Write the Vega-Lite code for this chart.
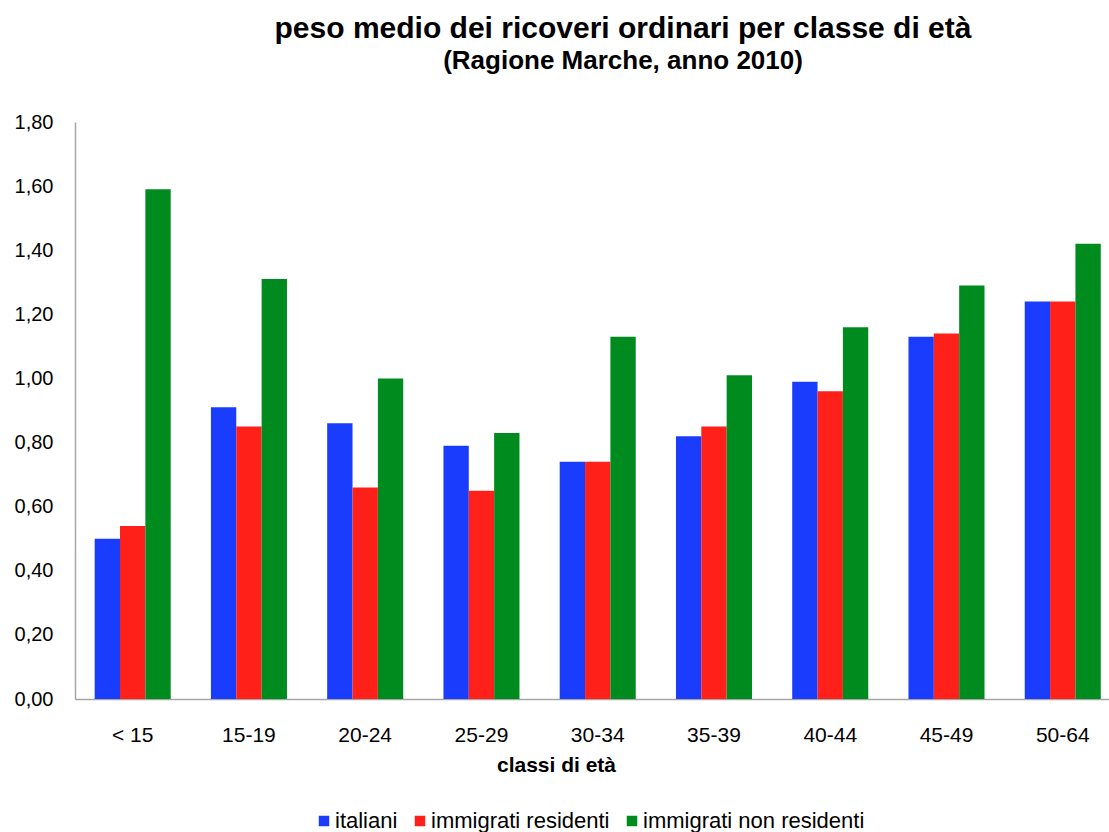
{
  "$schema": "https://vega.github.io/schema/vega-lite/v6.json",
  "width": 1034,
  "height": 577,
  "autosize": {"type": "none"},
  "padding": {"left": 75, "top": 122, "right": 0, "bottom": 133},
  "background": "white",
  "title": {
    "text": "peso medio dei ricoveri ordinari per classe di età",
    "subtitle": "(Ragione Marche, anno 2010)",
    "font": "Liberation Sans",
    "fontSize": 30,
    "fontWeight": "bold",
    "color": "#000000",
    "subtitleFont": "Liberation Sans",
    "subtitleFontSize": 26,
    "subtitleFontWeight": "bold",
    "subtitleColor": "#000000",
    "subtitlePadding": 4,
    "anchor": "middle",
    "dx": 31,
    "offset": 38
  },
  "data": {
    "values": [
      {"classe": "< 15", "gruppo": "italiani", "peso": 0.50},
      {"classe": "< 15", "gruppo": "immigrati residenti", "peso": 0.54},
      {"classe": "< 15", "gruppo": "immigrati non residenti", "peso": 1.59},
      {"classe": "15-19", "gruppo": "italiani", "peso": 0.91},
      {"classe": "15-19", "gruppo": "immigrati residenti", "peso": 0.85},
      {"classe": "15-19", "gruppo": "immigrati non residenti", "peso": 1.31},
      {"classe": "20-24", "gruppo": "italiani", "peso": 0.86},
      {"classe": "20-24", "gruppo": "immigrati residenti", "peso": 0.66},
      {"classe": "20-24", "gruppo": "immigrati non residenti", "peso": 1.00},
      {"classe": "25-29", "gruppo": "italiani", "peso": 0.79},
      {"classe": "25-29", "gruppo": "immigrati residenti", "peso": 0.65},
      {"classe": "25-29", "gruppo": "immigrati non residenti", "peso": 0.83},
      {"classe": "30-34", "gruppo": "italiani", "peso": 0.74},
      {"classe": "30-34", "gruppo": "immigrati residenti", "peso": 0.74},
      {"classe": "30-34", "gruppo": "immigrati non residenti", "peso": 1.13},
      {"classe": "35-39", "gruppo": "italiani", "peso": 0.82},
      {"classe": "35-39", "gruppo": "immigrati residenti", "peso": 0.85},
      {"classe": "35-39", "gruppo": "immigrati non residenti", "peso": 1.01},
      {"classe": "40-44", "gruppo": "italiani", "peso": 0.99},
      {"classe": "40-44", "gruppo": "immigrati residenti", "peso": 0.96},
      {"classe": "40-44", "gruppo": "immigrati non residenti", "peso": 1.16},
      {"classe": "45-49", "gruppo": "italiani", "peso": 1.13},
      {"classe": "45-49", "gruppo": "immigrati residenti", "peso": 1.14},
      {"classe": "45-49", "gruppo": "immigrati non residenti", "peso": 1.29},
      {"classe": "50-64", "gruppo": "italiani", "peso": 1.24},
      {"classe": "50-64", "gruppo": "immigrati residenti", "peso": 1.24},
      {"classe": "50-64", "gruppo": "immigrati non residenti", "peso": 1.42}
    ]
  },
  "mark": {"type": "bar"},
  "encoding": {
    "x": {
      "field": "classe",
      "type": "nominal",
      "sort": ["< 15", "15-19", "20-24", "25-29", "30-34", "35-39", "40-44", "45-49", "50-64"],
      "scale": {"paddingInner": 0.346, "paddingOuter": 0.12, "align": 0.705},
      "axis": {
        "title": "classi di età",
        "titleFont": "Liberation Sans",
        "titleFontSize": 21,
        "titleFontWeight": "bold",
        "titleColor": "#000000",
        "titleX": 481,
        "titleY": 72,
        "titleAlign": "center",
        "titleBaseline": "alphabetic",
        "labelFont": "Liberation Sans",
        "labelFontSize": 21,
        "labelColor": "#000000",
        "labelAngle": 0,
        "labelPadding": 25,
        "ticks": false,
        "tickSize": 0,
        "domainColor": "#a6a6a6",
        "domainWidth": 1.5,
        "grid": false
      }
    },
    "xOffset": {
      "field": "gruppo",
      "sort": ["italiani", "immigrati residenti", "immigrati non residenti"],
      "scale": {"paddingInner": 0, "paddingOuter": 0}
    },
    "y": {
      "field": "peso",
      "type": "quantitative",
      "scale": {"domain": [0, 1.8], "nice": false, "zero": true},
      "axis": {
        "title": null,
        "values": [0, 0.2, 0.4, 0.6, 0.8, 1.0, 1.2, 1.4, 1.6, 1.8],
        "labelExpr": "replace(format(datum.value, '.2f'), '.', ',')",
        "labelFont": "Liberation Sans",
        "labelFontSize": 20,
        "labelColor": "#000000",
        "labelPadding": 22,
        "ticks": false,
        "tickSize": 0,
        "grid": false,
        "domainColor": "#a6a6a6",
        "domainWidth": 1.5
      }
    },
    "color": {
      "field": "gruppo",
      "type": "nominal",
      "sort": ["italiani", "immigrati residenti", "immigrati non residenti"],
      "scale": {
        "domain": ["italiani", "immigrati residenti", "immigrati non residenti"],
        "range": ["#1A3CFC", "#FF2019", "#008B1F"]
      },
      "legend": {
        "title": null,
        "orient": "none",
        "legendX": 238,
        "legendY": 688,
        "direction": "horizontal",
        "symbolType": "square",
        "symbolSize": 110,
        "symbolStrokeWidth": 0,
        "labelFont": "Liberation Sans",
        "labelFontSize": 22,
        "labelColor": "#000000",
        "labelOffset": 0,
        "labelLimit": 0,
        "columnPadding": 11,
        "padding": 0
      }
    }
  },
  "config": {
    "view": {"stroke": null}
  }
}
